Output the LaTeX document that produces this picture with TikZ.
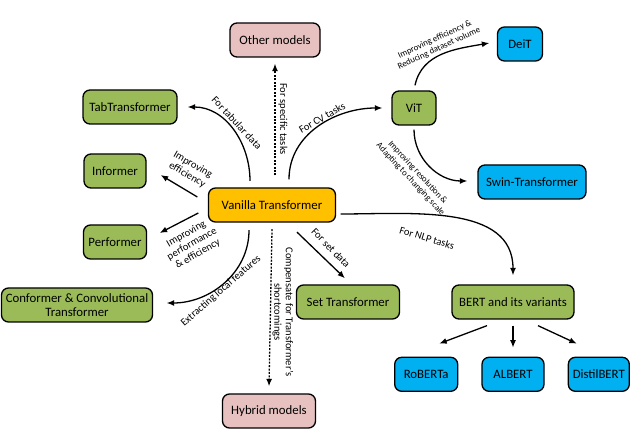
\documentclass[tikz,border=0pt]{standalone}
\usepackage{fontspec}
\setmainfont{Carlito}
\usepackage{tikz}
\usetikzlibrary{arrows.meta,positioning}
\definecolor{TfGreen}{HTML}{9BBB59}
\definecolor{TfGold}{HTML}{FFC000}
\definecolor{TfPink}{HTML}{E6C1C0}
\definecolor{TfBlue}{HTML}{00B0F0}
\tikzset{
  modelbox/.style={draw=black,line width=1.3pt,rounded corners=7pt,align=center,minimum height=34pt,inner sep=2pt,font=\fontsize{12.8}{13.5}\selectfont},
  linkarrow/.style={-{Latex[length=7.5pt,width=6pt]},line width=1.3pt,draw=black},
  hintarrow/.style={linkarrow,dash pattern=on 2pt off 1.4pt},
  linklabel/.style={align=center,inner sep=0pt,font=\fontsize{10.5}{11.5}\selectfont},
  smalllabel/.style={align=center,inner sep=0pt,font=\fontsize{8.8}{9.8}\selectfont}
}
\begin{document}
\begin{tikzpicture}[x=1pt,y=1pt,node distance=37pt and 23pt]
\useasboundingbox (0,0) rectangle (631,430);
% models
\node[modelbox,fill=TfGold,minimum width=127pt] (vanilla) at (272,225) {Vanilla Transformer};
\node[modelbox,fill=TfPink,minimum width=90pt] (other) at (275,390) {Other models};
\node[modelbox,fill=TfPink,minimum width=93pt] (hybrid) at (269,19) {Hybrid models};
\node[modelbox,fill=TfGreen,minimum width=94pt] (tab) at (130,323) {TabTransformer};
\node[modelbox,fill=TfGreen,minimum width=62pt] (informer) at (115,259) {Informer};
\node[modelbox,fill=TfGreen,minimum width=63pt] (performer) at (115,188) {Performer};
\node[modelbox,fill=TfGreen,minimum width=151pt] (conformer) at (77,125) {Conformer \& Convolutional\\Transformer};
\node[modelbox,fill=TfGreen,minimum width=103pt] (settf) at (348,128) {Set Transformer};
\node[modelbox,fill=TfGreen,minimum width=44pt] (vit) at (414,322) {ViT};
\node[modelbox,fill=TfBlue,minimum width=45pt] (deit) at (520,386) {DeiT};
\node[modelbox,fill=TfBlue,minimum width=108pt] (swin) at (532,248) {Swin-Transformer};
\node[modelbox,fill=TfGreen,minimum width=122pt] (bert) at (513,128) {BERT and its variants};
\node[modelbox,fill=TfBlue,minimum width=62pt,below=of bert] (albert) {ALBERT};
\node[modelbox,fill=TfBlue,minimum width=63pt,left=of albert] (roberta) {RoBERTa};
\node[modelbox,fill=TfBlue,minimum width=61pt,right=of albert] (distil) {DistilBERT};
% links out of the vanilla model
\draw[hintarrow] ([xshift=3pt,yshift=12pt]vanilla.north) -- ([yshift=-6pt]other.south);
\draw[hintarrow] ([yshift=-6.5pt]vanilla.south) -- ([yshift=7pt]hybrid.north);
\draw[linkarrow] ([xshift=-22pt,yshift=6.5pt]vanilla.north) to[out=90,in=0] ([xshift=10pt]tab.east);
\draw[linkarrow] ([xshift=17pt,yshift=8pt]vanilla.north) to[out=90,in=180] ([xshift=-9pt]vit.west);
\draw[linkarrow] ([xshift=-10.5pt,yshift=8pt]vanilla.west) -- ([xshift=14pt,yshift=-4pt]informer.east);
\draw[linkarrow] ([xshift=-9.5pt,yshift=-8pt]vanilla.west) -- ([xshift=12.5pt,yshift=9pt]performer.east);
\draw[linkarrow] ([xshift=-23pt,yshift=-7.5pt]vanilla.south) to[out=-90,in=0] ([xshift=13.5pt,yshift=2pt]conformer.east);
\draw[linkarrow] ([xshift=25pt,yshift=-9.5pt]vanilla.south) -- ([xshift=-3pt,yshift=6pt]settf.north);
\draw[linkarrow] ([xshift=4.5pt,yshift=-9pt]vanilla.east) to[out=0,in=90] ([yshift=9pt]bert.north);
% ViT family
\draw[linkarrow] ([xshift=1pt,yshift=5pt]vit.north) to[out=78,in=190] ([xshift=-7.5pt,yshift=1pt]deit.west);
\draw[linkarrow] ([yshift=-4pt]vit.south) to[out=-90,in=180] ([xshift=-10pt,yshift=1pt]swin.west);
% BERT family
\draw[linkarrow] ([xshift=-26pt,yshift=-6pt]bert.south) -- ([xshift=13pt,yshift=13pt]roberta.north);
\draw[linkarrow] ([yshift=-6pt]bert.south) -- ([yshift=9pt]albert.north);
\draw[linkarrow] ([xshift=25pt,yshift=-6pt]bert.south) -- ([xshift=-22pt,yshift=13pt]distil.north);
% labels
\node[linklabel,rotate=-90] (lspecific) at (283,311) {For specific tasks};
\node[linklabel,rotate=-47] (ltab) at (237,307) {For tabular data};
\node[linklabel,rotate=30] (lcv) at (322,312) {For CV tasks};
\node[linklabel,rotate=-30] (linf) at (190,260) {Improving\\efficiency};
\node[linklabel,rotate=30] (lperf) at (192,186) {Improving\\performance\\\& efficiency};
\node[linklabel,rotate=41] (lconf) at (221,139) {Extracting local features};
\node[linklabel,rotate=-90] (lhybrid) at (283,118) {Compensate for Transformer's\\shortcomings};
\node[linklabel,rotate=-46] (lset) at (331,182) {For set data};
\node[linklabel,rotate=-17] (lnlp) at (427,192) {For NLP tasks};
\node[smalllabel,rotate=25] (ldeit) at (437,386) {Improving efficiency \&\\Reducing dataset volume};
\node[smalllabel,rotate=-47] (lswin) at (414,254) {Improving resolution \&\\Adapting to changing scale};
\end{tikzpicture}
\end{document}
